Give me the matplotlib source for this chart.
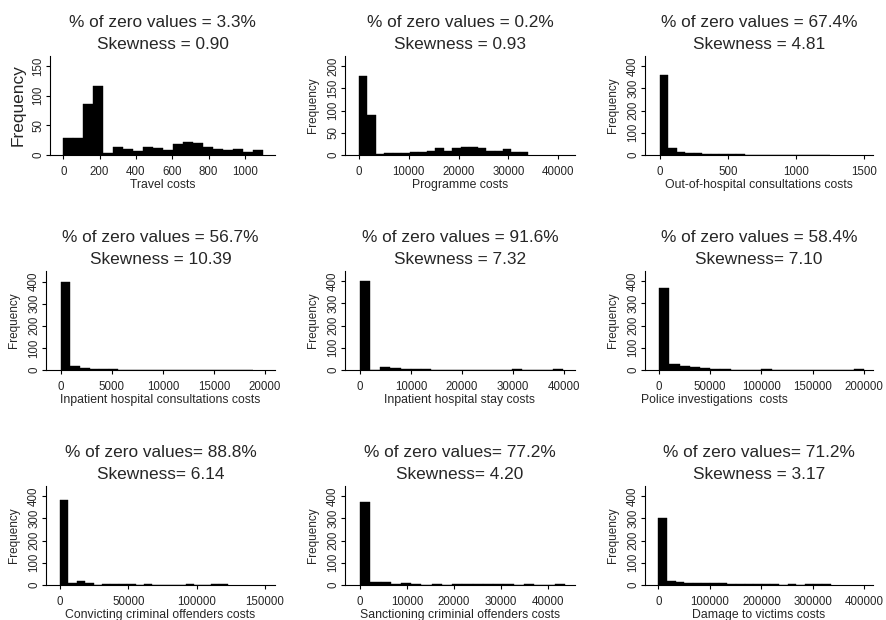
import matplotlib
matplotlib.use("Agg")
import matplotlib.pyplot as plt
import numpy as np

plt.rcParams["font.family"] = ["Liberation Sans", "DejaVu Sans"]

TEXT = "#262626"

zero_titles = [
    "% of zero values = 3.3%", "% of zero values = 0.2%", "% of zero values = 67.4%",
    "% of zero values = 56.7%", "% of zero values = 91.6%", "% of zero values = 58.4%",
    "% of zero values= 88.8%", "% of zero values= 77.2%", "% of zero values= 71.2%",
]
skew_titles = [
    "Skewness = 0.90", "Skewness = 0.93", "Skewness = 4.81",
    "Skewness = 10.39", "Skewness = 7.32", "Skewness= 7.10",
    "Skewness= 6.14", "Skewness= 4.20", "Skewness = 3.17",
]
x_labels = [
    "Travel costs", "Programme costs", "Out-of-hospital consultations costs",
    "Inpatient hospital consultations costs", "Inpatient hospital stay costs",
    "Police investigations  costs", "Convicting criminal offenders costs",
    "Sanctioning criminial offenders costs", "Damage to victims costs",
]

# 20 equal-width bins starting at 0 for every variable
bin_widths = [55, 1700, 62.5, 940, 1990, 10000, 6140, 2184, 16730]

travel = [28, 28, 86, 117, 3, 14, 10, 7, 13, 11, 9, 18, 22, 20, 14, 10, 8, 10, 5, 8]
programme = [177, 90, 3, 4, 5, 5, 7, 7, 9, 15, 9, 16, 19, 19, 15, 10, 9, 13, 6, 7]
out_hospital = [358, 33, 12, 9, 7, 6, 4, 3, 3, 3, 2, 0, 0, 0, 2, 0, 0, 0, 0, 2]
inpatient_consult = [398, 18, 9, 4, 4, 3, 0, 0, 2, 0, 2, 0, 0, 0, 0, 0, 0, 0, 0, 2]
inpatient_stay = [398, 2, 15, 9, 3, 3, 3, 2, 2, 0, 0, 0, 0, 0, 0, 3, 0, 0, 2, 3]
police = [367, 27, 19, 13, 7, 4, 4, 0, 0, 0, 3, 0, 0, 0, 0, 0, 0, 0, 0, 3]
convicting = [382, 7, 18, 9, 0, 3, 3, 3, 3, 0, 3, 0, 0, 0, 0, 3, 0, 0, 3, 3]
sanctioning = [375, 12, 12, 4, 8, 3, 2, 3, 2, 3, 3, 3, 5, 3, 3, 0, 3, 0, 0, 3]
damage = [302, 19, 12, 10, 7, 9, 7, 7, 6, 6, 5, 5, 4, 4, 0, 4, 0, 4, 4, 4]
all_counts = [travel, programme, out_hospital, inpatient_consult, inpatient_stay,
              police, convicting, sanctioning, damage]

x_ticks = [
    [0, 200, 400, 600, 800, 1000],
    [0, 10000, 20000, 30000, 40000],
    [0, 500, 1000, 1500],
    [0, 5000, 10000, 15000, 20000],
    [0, 10000, 20000, 30000, 40000],
    [0, 50000, 100000, 150000, 200000],
    [0, 50000, 100000, 150000],
    [0, 10000, 20000, 30000, 40000],
    [0, 100000, 200000, 300000, 400000],
]
y_ticks = [[0, 50, 100, 150], [0, 50, 100, 150, 200]] + [[0, 100, 200, 300, 400]] * 7

# layout (pixels) and axis ranges
W, H = 886, 620
lefts = [50, 345, 645, 46, 345, 645, 46, 345, 645]
rights = [275, 575, 873, 275, 575, 873, 275, 575, 873]
baselines = [155, 370, 585]
panel_h = 99
x_limits = [(-73, 1165), (-2810, 43350), (-110, 1566), (-1440, 20975), (-2940, 42160),
            (-13700, 209000), (-10240, 157300), (-3200, 45820), (-26000, 416700)]
y_tops = [167, 223, 445, 448, 445, 445, 445, 445, 445]

fig = plt.figure(figsize=(W / 100, H / 100), dpi=100)
fig.patch.set_facecolor("white")

for i in range(9):
    row = i // 3
    left, right = lefts[i], rights[i]
    base = baselines[row]
    ax = fig.add_axes([left / W, (H - base) / H, (right - left) / W, panel_h / H])

    counts = np.array(all_counts[i], dtype=float)
    edges = np.arange(len(counts) + 1) * bin_widths[i]
    ax.hist(edges[:-1], bins=edges, weights=counts, color="black",
            edgecolor="black", linewidth=0.3)

    ax.set_xlim(*x_limits[i])
    ax.set_ylim(0, y_tops[i])
    ax.set_xticks(x_ticks[i])
    ax.set_xticklabels([str(t) for t in x_ticks[i]])
    ax.set_yticks(y_ticks[i])
    ax.set_yticklabels([str(t) for t in y_ticks[i]])

    for side in ("top", "right"):
        ax.spines[side].set_visible(False)
    for side in ("left", "bottom"):
        ax.spines[side].set_linewidth(0.8)
        ax.spines[side].set_color("black")
    ax.tick_params(axis="both", length=3.2, width=0.8, color="black",
                   labelsize=8.3, labelcolor=TEXT)
    ax.tick_params(axis="x", pad=4.8)
    ax.tick_params(axis="y", pad=1.0, labelrotation=90)
    for lbl in ax.get_yticklabels():
        lbl.set_va("center")

    ax.set_xlabel(x_labels[i], fontsize=8.8, color=TEXT)
    ax.xaxis.set_label_coords(0.5, -30 / panel_h)
    ax.xaxis.label.set_va("center")
    if i == 5:
        ax.xaxis.label.set_ha("left")
        ax.xaxis.set_label_coords(-4 / (right - left), -30 / panel_h)

    ax.set_ylabel("Frequency", fontsize=12.4 if i == 0 else 8.5, color=TEXT)
    ax.yaxis.set_label_coords(-32 / (right - left), 0.5)
    ax.yaxis.label.set_va("center")

    ax.annotate(zero_titles[i], xy=(0.5, 1), xycoords="axes fraction",
                xytext=(0, 33.5), textcoords="offset pixels",
                ha="center", va="center", fontsize=12.4, color=TEXT)
    ax.annotate(skew_titles[i], xy=(0.5, 1), xycoords="axes fraction",
                xytext=(0, 11.5), textcoords="offset pixels",
                ha="center", va="center", fontsize=12.4, color=TEXT)

fig.savefig("out.png", dpi=100, facecolor="white")
